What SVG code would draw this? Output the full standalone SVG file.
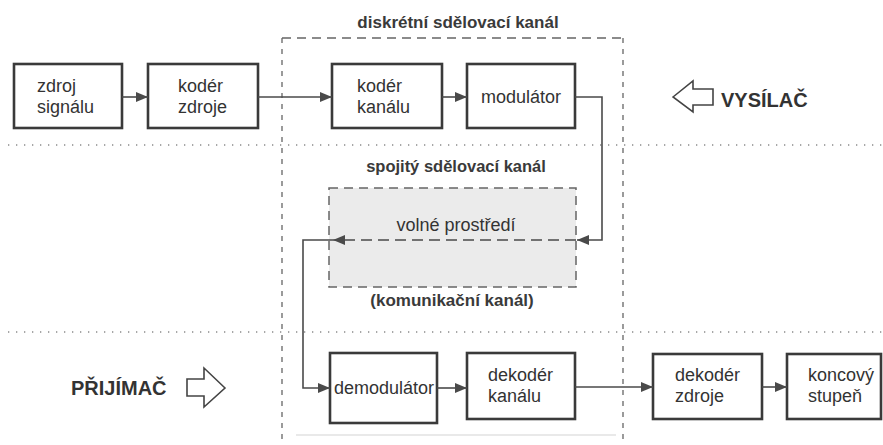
<svg xmlns="http://www.w3.org/2000/svg" width="883" height="445" viewBox="0 0 883 445">
  <style>
    .box { fill: #ffffff; stroke: #3a3a3a; stroke-width: 2.6; }
    .lbl { font-family: "Liberation Sans", Arial, sans-serif; font-size: 18px; fill: #333333; }
    .ttl { font-family: "Liberation Sans", Arial, sans-serif; font-weight: bold; fill: #3a3a3a; }
    .big { font-family: "Liberation Sans", Arial, sans-serif; font-weight: bold; font-size: 20px; fill: #333333; }
    .wire { fill: none; stroke: #4a4a4a; stroke-width: 1.6; }
    .dots { fill: none; stroke: #8a8a8a; stroke-width: 1.3; stroke-dasharray: 1.3 6.7; }
    .dash { fill: none; stroke: #666666; stroke-width: 1.3; }
    .hollow { fill: #ffffff; stroke: #444444; stroke-width: 1.6; stroke-linejoin: miter; }
  </style>
  <defs>
    <marker id="arr" viewBox="0 0 12 10" refX="12" refY="5" markerWidth="12" markerHeight="10" markerUnits="userSpaceOnUse" orient="auto">
      <path d="M0,0 L12,5 L0,10 Z" fill="#4a4a4a"/>
    </marker>
  </defs>

  <rect width="883" height="445" fill="#ffffff"/>

  <!-- section separators -->
  <g id="separators">
    <line class="dots" x1="8" y1="145" x2="883" y2="145"/>
    <line class="dots" x1="8" y1="332" x2="883" y2="332"/>
  </g>

  <!-- discrete channel frame -->
  <g id="discrete-channel">
    <path class="dash" d="M282,38 H623" stroke-dasharray="9 6"/>
    <path class="dash" d="M282,38 V445" stroke-dasharray="5 6"/>
    <path class="dash" d="M623,38 V445" stroke-dasharray="5 6"/>
    <line x1="296" y1="435" x2="616" y2="435" stroke="#e2e2e2" stroke-width="1.5"/>
    <text class="ttl" x="458" y="28" font-size="17" text-anchor="middle">diskrétní sdělovací kanál</text>
  </g>

  <!-- continuous channel -->
  <g id="continuous-channel">
    <text class="ttl" x="456" y="172" font-size="16.5" text-anchor="middle">spojitý sdělovací kanál</text>
    <rect x="329" y="188" width="247" height="99" fill="#ebebeb" stroke="#666666" stroke-width="1.5" stroke-dasharray="9 6"/>
    <text class="lbl" x="456" y="231" text-anchor="middle">volné prostředí</text>
    <text class="ttl" x="452" y="306" font-size="17" text-anchor="middle">(komunikační kanál)</text>
  </g>

  <!-- transmitter chain -->
  <g id="zdroj-signalu">
    <rect class="box" x="14" y="64" width="108" height="64"/>
    <text class="lbl" x="37" y="92">zdroj</text>
    <text class="lbl" x="37" y="113">signálu</text>
  </g>
  <g id="koder-zdroje">
    <rect class="box" x="148" y="64" width="110" height="64"/>
    <text class="lbl" x="178" y="92">kodér</text>
    <text class="lbl" x="178" y="113">zdroje</text>
  </g>
  <g id="koder-kanalu">
    <rect class="box" x="332" y="64" width="110" height="64"/>
    <text class="lbl" x="357" y="92">kodér</text>
    <text class="lbl" x="357" y="113">kanálu</text>
  </g>
  <g id="modulator">
    <rect class="box" x="467" y="64" width="108" height="64"/>
    <text class="lbl" x="521" y="103" text-anchor="middle">modulátor</text>
  </g>

  <!-- receiver chain -->
  <g id="demodulator">
    <rect class="box" x="330" y="353" width="107" height="70"/>
    <text class="lbl" x="384" y="394" text-anchor="middle">demodulátor</text>
  </g>
  <g id="dekoder-kanalu">
    <rect class="box" x="467" y="353" width="108" height="66"/>
    <text class="lbl" x="488" y="381">dekodér</text>
    <text class="lbl" x="488" y="402">kanálu</text>
  </g>
  <g id="dekoder-zdroje">
    <rect class="box" x="653" y="354" width="109" height="65"/>
    <text class="lbl" x="675" y="381">dekodér</text>
    <text class="lbl" x="675" y="402">zdroje</text>
  </g>
  <g id="koncovy-stupen">
    <rect class="box" x="787" y="354" width="94" height="65"/>
    <text class="lbl" x="808" y="381">koncový</text>
    <text class="lbl" x="808" y="402">stupeň</text>
  </g>

  <!-- side labels -->
  <g id="vysilac">
    <path class="hollow" d="M673,97 L693,81 L693,89 L713,89 L713,105 L693,105 L693,112 Z"/>
    <text class="big" x="721" y="107">VYSÍLAČ</text>
  </g>
  <g id="prijimac">
    <path class="hollow" d="M225,388 L204,368 L204,379 L187,379 L187,396 L204,396 L204,407 Z"/>
    <text class="big" x="71" y="395">PŘIJÍMAČ</text>
  </g>

  <!-- connectors -->
  <g id="connectors">
    <line class="wire" x1="122" y1="97" x2="148" y2="97" marker-end="url(#arr)"/>
    <line class="wire" x1="258" y1="97" x2="332" y2="97" marker-end="url(#arr)"/>
    <line class="wire" x1="442" y1="97" x2="467" y2="97" marker-end="url(#arr)"/>
    <path class="wire" d="M575,97 H602 V240 H577" marker-end="url(#arr)"/>
    <line class="wire" x1="576" y1="240" x2="333" y2="240" stroke-dasharray="11 6" marker-end="url(#arr)"/>
    <path class="wire" d="M333,240 H303 V388 H330" marker-end="url(#arr)"/>
    <line class="wire" x1="437" y1="388" x2="467" y2="388" marker-end="url(#arr)"/>
    <line class="wire" x1="575" y1="387" x2="653" y2="387" marker-end="url(#arr)"/>
    <line class="wire" x1="762" y1="387" x2="787" y2="387" marker-end="url(#arr)"/>
  </g>
</svg>
